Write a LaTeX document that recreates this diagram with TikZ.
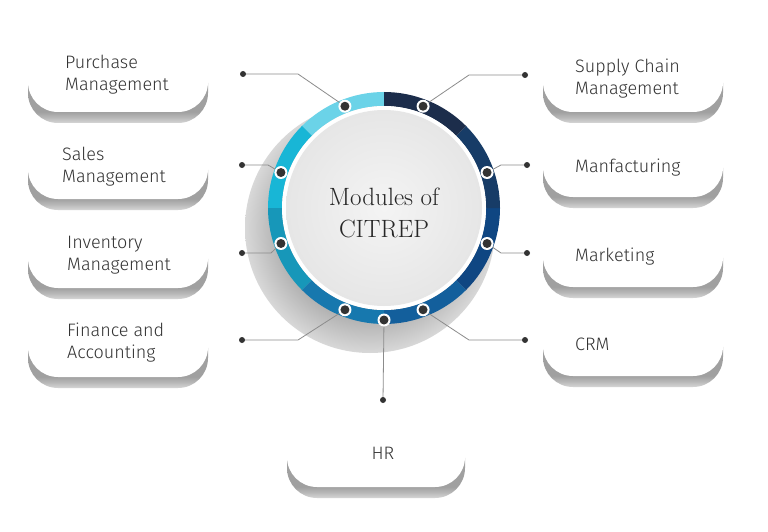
\documentclass[tikz,border=0pt]{standalone}
\usepackage{fontspec}
\newfontfamily\boxfont{Fira Sans Light}
\usetikzlibrary{calc}
\definecolor{txt}{HTML}{333333}
\definecolor{wirec}{HTML}{8C8C8C}
\definecolor{dotc}{HTML}{333333}
\definecolor{sha}{HTML}{D6D6D6}
\definecolor{shb}{HTML}{B8B8B8}
\definecolor{shc}{HTML}{A0A0A0}
\definecolor{csa}{HTML}{B0B0B0}
\definecolor{csb}{HTML}{D8D8D8}
\definecolor{rga}{HTML}{6BD3E8}
\definecolor{rgb}{HTML}{18B6D6}
\definecolor{rgc}{HTML}{1797B9}
\definecolor{rgd}{HTML}{1778AE}
\definecolor{rge}{HTML}{135F9C}
\definecolor{rgf}{HTML}{0F4682}
\definecolor{rgg}{HTML}{173C67}
\definecolor{rgh}{HTML}{1C2D4B}
\definecolor{disca}{HTML}{F4F4F4}
\definecolor{discb}{HTML}{E6E6E6}
\pgfdeclareverticalshading{boxsh}{100bp}{color(0bp)=(sha); color(25bp)=(sha); color(29bp)=(shb); color(33bp)=(shc); color(100bp)=(shc)}
\pgfdeclareradialshading{circsh}{\pgfpoint{0bp}{0bp}}{color(0bp)=(csa); color(18bp)=(csa); color(25bp)=(csb); color(50bp)=(csb)}
\newcommand\modbox[3]{%
  \shade[shading=boxsh, rounded corners=30pt] ({#1},{-(#3)+59}) rectangle ({#2},{-(#3)-11});
  \fill[white, rounded corners=30pt] ({#1},{-(#3)+70}) rectangle ({#2},{-(#3)});
}
\newcommand\ringpiece[3]{%
  \fill[#3] ($(C)+(#1:116pt)$) arc[start angle=#1, end angle=#2, radius=116pt]
    -- ($(C)+(#2:102pt)$) arc[start angle=#2, end angle=#1, radius=102pt] -- cycle;
}
\begin{document}
\begin{tikzpicture}[x=1pt,y=1pt,
  boxtext/.style={font=\boxfont\fontsize{18}{22}\selectfont, text=txt, align=left, anchor=west, inner sep=0pt},
  wire/.style={draw=wirec, line width=0.8pt},
  halo/.style={circle, fill=white, minimum size=13pt, inner sep=0pt},
  ringdot/.style={circle, fill=dotc, minimum size=9pt, inner sep=0pt},
  enddot/.style={circle, fill=dotc, minimum size=6pt, inner sep=0pt},
  title/.style={font=\fontsize{25}{32}\selectfont, text=black!85, align=center}
]
\useasboundingbox (0,0) rectangle (768,-532);
\fill[white] (0,0) rectangle (768,-532);

% boxes
\modbox{28}{208}{112}
\modbox{28}{208}{199}
\modbox{28}{208}{288}
\modbox{28}{208}{377}
\modbox{543}{723}{112}
\modbox{543}{723}{197}
\modbox{543}{723}{287}
\modbox{543}{723}{376}
\modbox{287}{465}{487}

% box texts
\node[boxtext] (purchase) at (65,-75) {Purchase\\Management};
\node[boxtext] (sales) at (62,-167) {Sales\\Management};
\node[boxtext] (inventory) at (67,-255) {Inventory\\Management};
\node[boxtext] (finance) at (67,-343) {Finance and\\Accounting};
\node[boxtext] (supply) at (575,-79) {Supply Chain\\Management};
\node[boxtext] (manf) at (575,-168) {Manfacturing};
\node[boxtext] (marketing) at (575,-257) {Marketing};
\node[boxtext] (crm) at (575,-344) {CRM};
\node[boxtext, anchor=center] (hr) at (383,-453) {HR};

% circle
\coordinate (C) at (384,-208);
\shade[shading=circsh] (370,-228) circle[radius=125pt];
\ringpiece{90}{135}{rga}
\ringpiece{135}{180}{rgb}
\ringpiece{180}{225}{rgc}
\ringpiece{225}{270}{rgd}
\ringpiece{270}{315}{rge}
\ringpiece{315}{360}{rgf}
\ringpiece{0}{45}{rgg}
\ringpiece{45}{90}{rgh}
\fill[white] (C) circle[radius=102pt];
\shade[inner color=disca, outer color=discb] (C) circle[radius=98pt];
\node[title] (center) at (384,-213) {Modules of\\CITREP};

% ring points and end points
\coordinate (rp) at ($(C)+(111:109pt)$);
\coordinate (rs) at ($(C)+(161:109pt)$);
\coordinate (ri) at ($(C)+(199:109pt)$);
\coordinate (rf) at ($(C)+(249:109pt)$);
\coordinate (rh) at ($(C)+(270:112pt)$);
\coordinate (rc) at ($(C)+(291:109pt)$);
\coordinate (rk) at ($(C)+(341:109pt)$);
\coordinate (rm) at ($(C)+(19:109pt)$);
\coordinate (rsc) at ($(C)+(69:109pt)$);
\coordinate (ep) at (243,-74);
\coordinate (es) at (242,-165);
\coordinate (ei) at (242,-253);
\coordinate (ef) at (242,-340);
\coordinate (eh) at (383,-400);
\coordinate (ec) at (525,-340);
\coordinate (ek) at (527,-253);
\coordinate (em) at (527,-165);
\coordinate (esc) at (525,-75);

% connectors
\draw[wire] (rp) -- (298,-74) -- (ep);
\draw[wire] (rs) -- (268,-165) -- (es);
\draw[wire] (ri) -- (271,-253) -- (ei);
\draw[wire] (rf) -- (298,-340) -- (ef);
\draw[wire] (rh) -- (eh);
\draw[wire] (rc) -- (469,-340) -- (ec);
\draw[wire] (rk) -- (501,-253) -- (ek);
\draw[wire] (rm) -- (501,-165) -- (em);
\draw[wire] (rsc) -- (469,-75) -- (esc);

% dots
\foreach \p in {rp,rs,ri,rf,rh,rc,rk,rm,rsc} {\node[halo] at (\p) {}; \node[ringdot] at (\p) {};}
\foreach \p in {ep,es,ei,ef,eh,ec,ek,em,esc} \node[enddot] at (\p) {};
\end{tikzpicture}
\end{document}
